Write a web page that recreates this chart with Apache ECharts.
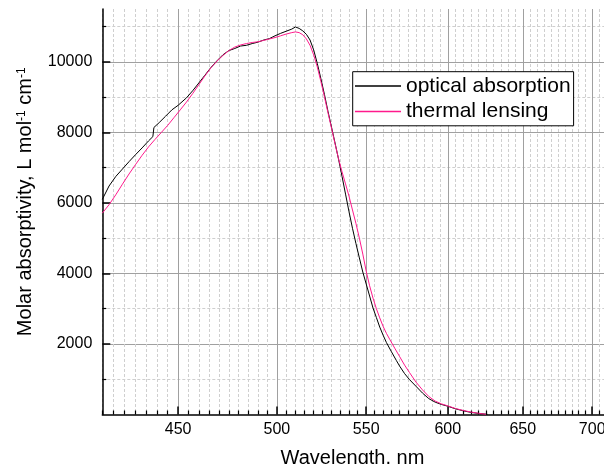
<!DOCTYPE html>
<html>
<head>
<meta charset="utf-8">
<script src="https://cdn.jsdelivr.net/npm/echarts@6/dist/echarts.min.js"></script>
<style>html,body{margin:0;padding:0;background:#fff}#c{width:604px;height:464px}</style>
</head>
<body>
<div id="c"></div>
<script>
// Optical absorption (black)
var absWavelength = [415,418,421,424,427,430,433,436,438,438.5,441,444,447,450,454,457,460,463,466,469,472,475,478,481,484,487,490,493,496,499,502,505,508,510,512,514,516,518,520,522,524,526,528,530,532,534,536,538,540,542,544,546,548,550,552,554,556,558,560,562,565,568,570,573,576,580,584,588,592,596,600,605,610,615,620,626];
var absValue = [6100,6480,6750,6960,7170,7370,7560,7760,7880,8140,8280,8460,8640,8770,8980,9180,9400,9620,9840,10030,10200,10320,10380,10450,10470,10520,10560,10620,10660,10740,10810,10870,10930,10990,10950,10880,10780,10620,10340,9960,9530,9080,8600,8150,7700,7240,6750,6250,5750,5280,4850,4440,4040,3700,3360,3020,2750,2480,2250,2040,1780,1530,1370,1160,990,800,610,450,350,285,235,160,105,60,30,5];
// Thermal lensing (pink)
var tlWavelength = [415,418,421,424,427,430,433,436,439,442,445,448,451,454,457,460,463,466,469,472,475,478,481,484,487,490,493,496,499,502,505,508,510,512,514,516,518,520,522,524,526,528,530,532,534,536,538,540,542,544,546,548,550,552,554,556,558,560,562,564,567,570,573,576,580,584,588,592,596,600,605,610,615,620,625];
var tlValue = [5710,5950,6230,6530,6820,7090,7350,7590,7800,8000,8200,8420,8640,8860,9100,9350,9600,9830,10020,10180,10320,10420,10480,10520,10550,10570,10610,10650,10690,10740,10790,10830,10850,10830,10770,10650,10470,10200,9860,9450,9010,8560,8120,7680,7250,6880,6540,6190,5800,5420,5000,4550,4060,3650,3300,3000,2740,2500,2300,2130,1880,1640,1400,1190,920,700,510,380,300,245,170,115,70,35,5];

var seriesNames = ['optical absorption', 'thermal lensing'];
var majorX = [450,500,550,600,650,700];
var minorX = [];
for (var w = 415; w <= 720; w += 5) { if (w % 50 !== 0) minorX.push(w); }
var majorY = [2000,4000,6000,8000,10000];
var minorY = [1000,3000,5000,7000,9000,11000];
var xMin = 415, xMax = 720, yMin = 0, yMax = 11500;

var LN = Math.log;
function pairs(xs, ys) { return xs.map(function (x, i) { return [LN(x), ys[i]]; }); }
var font = "'Liberation Sans', Arial, sans-serif";

var chart = echarts.init(document.getElementById('c'), null, {renderer: 'canvas'});
chart.setOption({
  animation: false,
  backgroundColor: '#fff',
  textStyle: {fontFamily: font},
  grid: {left: 102.3, top: 9, right: -14.6, bottom: 49.5, containLabel: false, outerBoundsMode: 'none'},
  legend: {
    orient: 'vertical', left: 352.7, top: 71.7,
    data: seriesNames,
    icon: 'rect', itemWidth: 46, itemHeight: 1.5, itemGap: 4.5,
    padding: [3.8, 3, 3.8, 2.3],
    borderColor: '#000', borderWidth: 1, backgroundColor: '#fff',
    textStyle: {fontSize: 21, color: '#000', fontFamily: font}
  },
  xAxis: [{
    type: 'value', min: LN(xMin), max: LN(xMax), position: 'bottom',
    name: 'Wavelength, nm', nameLocation: 'middle', nameGap: 34,
    nameTextStyle: {fontSize: 20, color: '#000', fontFamily: font, padding: [0, 16, 0, 0]},
    axisLine: {show: true, onZero: false, lineStyle: {color: '#000', width: 1.5}},
    axisTick: {show: true, inside: true, length: 8, customValues: majorX.map(LN), lineStyle: {color: '#000', width: 1.5}},
    axisLabel: {show: true, margin: 7, fontSize: 16, color: '#000', fontFamily: font, customValues: majorX.map(LN),
      formatter: function (v) { return String(Math.round(Math.exp(v))); }},
    splitLine: {show: true, lineStyle: {color: '#a0a0a0', width: 1}}
  }, {
    type: 'value', min: LN(xMin), max: LN(xMax), position: 'bottom',
    axisLine: {show: false},
    axisTick: {show: true, inside: true, length: 4, customValues: minorX.map(LN), lineStyle: {color: '#000', width: 1.2}},
    axisLabel: {show: false},
    splitLine: {show: true, lineStyle: {color: '#cfcfcf', width: 1, type: [3, 2]}}
  }],
  yAxis: [{
    type: 'value', min: yMin, max: yMax, position: 'left',
    name: 'Molar absorptivity, L mol{s|-1} cm{s|-1}', nameLocation: 'middle', nameGap: 67,
    nameTextStyle: {fontSize: 20, color: '#000', fontFamily: font, padding: [0, 0, 0, 20],
      rich: {s: {fontSize: 12, color: '#000', fontFamily: font, verticalAlign: 'top', padding: [0, 0, 8, 0]}}},
    axisLine: {show: true, onZero: false, lineStyle: {color: '#000', width: 1.5}},
    axisTick: {show: true, inside: true, length: 8, customValues: majorY, lineStyle: {color: '#000', width: 1.5}},
    axisLabel: {show: true, margin: 10, fontSize: 16, color: '#000', fontFamily: font, customValues: majorY,
      formatter: function (v) { return String(v); }},
    splitLine: {show: true, lineStyle: {color: '#a0a0a0', width: 1}}
  }, {
    type: 'value', min: yMin, max: yMax, position: 'left',
    axisLine: {show: false},
    axisTick: {show: true, inside: true, length: 4, customValues: minorY, lineStyle: {color: '#000', width: 1.2}},
    axisLabel: {show: false},
    splitLine: {show: true, lineStyle: {color: '#cfcfcf', width: 1, type: [3, 2]}}
  }],
  series: [{
    name: seriesNames[0], type: 'line', xAxisIndex: 0, yAxisIndex: 0,
    data: pairs(absWavelength, absValue), showSymbol: false, symbol: 'none',
    itemStyle: {color: '#000'}, lineStyle: {color: '#000', width: 1}, z: 3
  }, {
    name: seriesNames[1], type: 'line', xAxisIndex: 0, yAxisIndex: 0,
    data: pairs(tlWavelength, tlValue), showSymbol: false, symbol: 'none',
    itemStyle: {color: '#ff1a8c'}, lineStyle: {color: '#ff1a8c', width: 1}, z: 4
  }]
});
</script>
</body>
</html>
